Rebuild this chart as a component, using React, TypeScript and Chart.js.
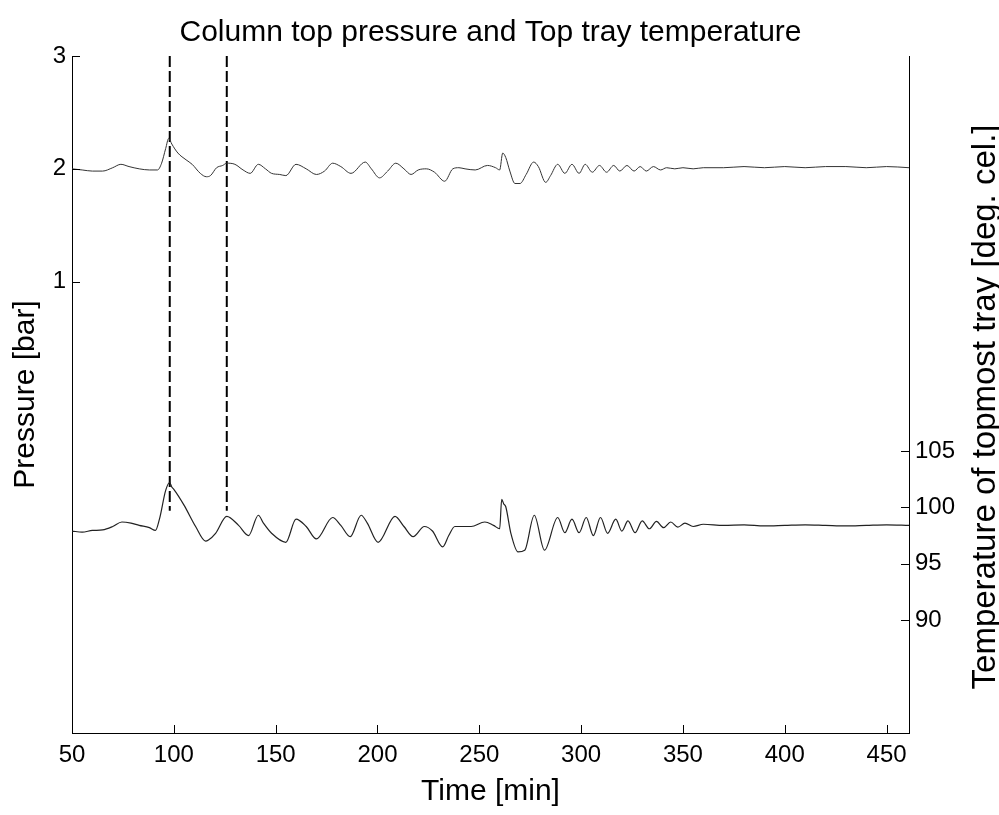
import { useEffect, useRef } from "react";
import { Chart, registerables } from "chart.js";
Chart.register(...registerables);

const FONT = '"Liberation Sans", Arial, Helvetica, sans-serif';

const chartTitle = "Column top pressure and Top tray temperature";
const xTitle = "Time [min]";
const leftTitle = "Pressure [bar]";
const rightTitle = "Temperature of topmost tray [deg. cel.]";

const timeTicks = [50, 100, 150, 200, 250, 300, 350, 400, 450];
const pressureTicks = [1, 2, 3];
const temperatureTicks = [90, 95, 100, 105];

const pressureTime = [
  50, 55, 60, 65, 70, 74, 78, 83, 88, 92, 94, 96, 97.5, 99, 102, 106, 109, 113, 116, 118,
  121, 124, 126, 130, 134, 137.5, 141.5, 145, 148, 152, 155, 160, 165, 170, 174, 178, 182, 187,
  194, 197, 201, 205, 209, 213, 216.5, 220, 224, 228, 233, 237, 240, 243, 248, 254, 258, 260,
  261.5, 263, 265, 267.5, 270, 273, 276.7, 279, 282.6, 285, 288.5, 292, 295.5, 299, 302, 305.5,
  309, 312.5, 316, 319, 322.5, 326, 329, 332, 335.5, 339, 342, 346, 350, 355, 360, 370, 380,
  390, 400, 410, 420, 430, 440, 450, 461,
];
const pressureValue = [
  2.0, 1.99, 1.98, 1.98, 2.01, 2.04, 2.02, 2.0, 1.99, 1.99, 2.05, 2.18, 2.27, 2.22, 2.14, 2.08, 2.04, 1.96, 1.93, 1.94,
  2.01, 2.03, 2.05, 2.04, 1.99, 1.96, 2.04, 2.0, 1.96, 1.95, 1.94, 2.04, 2.0, 1.95, 1.98, 2.05, 2.02, 1.96,
  2.06, 2.0, 1.92, 1.98, 2.05, 2.0, 1.95, 1.99, 2.0, 1.97, 1.89, 2.0, 2.01, 2.0, 1.99, 2.03, 2.01, 1.99,
  2.14, 2.1, 1.98, 1.87, 1.87, 1.95, 2.06, 2.02, 1.88, 1.94, 2.04, 1.96, 2.04, 1.96, 2.04, 1.97,
  2.03, 1.97, 2.03, 1.98, 2.03, 1.98, 2.02, 1.98, 2.02, 1.99, 2.01, 2.0, 2.01, 2.0, 2.01, 2.01, 2.02,
  2.01, 2.02, 2.01, 2.02, 2.02, 2.01, 2.02, 2.01,
];

const temperatureTime = [
  50, 55, 60, 65, 70, 74.5, 79, 83, 88, 91, 93, 96, 98, 99, 100, 105, 110.7, 115.6, 117, 120.5,
  126, 131.8, 136.7, 141.5, 144, 148, 155, 160, 165, 170, 178, 182, 186.6, 192, 195, 200.3, 208.6,
  213, 217.5, 223, 227, 232, 235, 238, 246, 252.7, 257, 260, 261, 262, 263, 265.5, 269, 272.3,
  277, 282, 288.5, 292, 295.5, 299, 302.5, 306, 309.5, 313, 317, 320, 323, 326.5, 330, 333.5,
  337, 340.5, 344, 347.5, 351, 355, 360, 370, 380, 390, 400, 410, 420, 430, 440, 450, 461,
];
const temperatureValue = [
  97.9, 97.8, 97.95, 98.0, 98.3, 98.7, 98.6, 98.4, 98.2, 97.95, 99.0, 101.5, 102.2, 101.8, 101.6, 100.2, 98.3, 97.0, 97.1, 97.7,
  99.2, 98.4, 97.5, 99.3, 98.6, 97.7, 96.9, 98.95, 98.3, 97.2, 99.1, 98.4, 97.4, 99.3, 98.6, 96.9, 99.2,
  98.3, 97.4, 98.3, 97.9, 96.5, 97.5, 98.3, 98.3, 98.7, 98.4, 98.1, 100.7, 100.3, 100.05, 97.7, 96.05, 96.2,
  99.3, 96.2, 99.1, 97.75, 98.95, 97.75, 99.1, 97.5, 99.1, 97.7, 98.95, 97.9, 98.8, 97.75, 98.8, 98.1,
  98.75, 98.2, 98.7, 98.25, 98.6, 98.3, 98.5, 98.4, 98.45, 98.35, 98.4, 98.45, 98.4, 98.35, 98.4, 98.45, 98.4,
];

const markerTimes = [98, 126];
const markerRange = [3, -1.03];

const decorPlugin = {
  id: "decor",
  afterDraw(chart: any) {
    const ctx = chart.ctx as CanvasRenderingContext2D;
    const { left, right, top, bottom } = chart.chartArea;
    ctx.save();
    ctx.strokeStyle = "#000";
    ctx.lineWidth = 1;
    const tickLen = 8;
    const xs = chart.scales.x;
    xs.ticks.forEach((t: any) => {
      const px = Math.round(xs.getPixelForValue(t.value)) + 0.5;
      ctx.beginPath();
      ctx.moveTo(px, bottom);
      ctx.lineTo(px, bottom - tickLen);
      ctx.stroke();
    });
    const yl = chart.scales.yP;
    yl.ticks.forEach((t: any) => {
      const py = Math.round(yl.getPixelForValue(t.value)) + 0.5;
      ctx.beginPath();
      ctx.moveTo(left, py);
      ctx.lineTo(left + tickLen, py);
      ctx.stroke();
    });
    const yr = chart.scales.yT;
    yr.ticks.forEach((t: any) => {
      const py = Math.round(yr.getPixelForValue(t.value)) + 0.5;
      ctx.beginPath();
      ctx.moveTo(right, py);
      ctx.lineTo(right - tickLen, py);
      ctx.stroke();
    });

    ctx.fillStyle = "#000";
    ctx.textAlign = "center";
    ctx.textBaseline = "alphabetic";
    ctx.font = `30px ${FONT}`;
    ctx.fillText(chartTitle, (left + right) / 2, 41);
    ctx.fillText(xTitle, (left + right) / 2, 800);

    ctx.save();
    ctx.translate(34, (top + bottom) / 2);
    ctx.rotate(-Math.PI / 2);
    ctx.fillText(leftTitle, 0, 0);
    ctx.restore();

    ctx.save();
    ctx.font = `33px ${FONT}`;
    ctx.translate(995, 407);
    ctx.rotate(-Math.PI / 2);
    ctx.fillText(rightTitle, 0, 0);
    ctx.restore();
    ctx.restore();
  },
};

export default function App() {
  const ref = useRef<HTMLCanvasElement | null>(null);
  useEffect(() => {
    document.body.style.margin = "0";
    const canvas = ref.current;
    if (!canvas) return;
    const tickFont = { family: FONT, size: 24 };
    const markerSets = markerTimes.map((t) => ({
      label: `marker ${t}`,
      data: markerRange.map((v) => ({ x: t, y: v })),
      yAxisID: "yP",
      borderColor: "#000",
      borderWidth: 2,
      borderDash: [11, 4],
      pointRadius: 0,
      fill: false,
    }));
    const chart = new Chart(canvas, {
      type: "line",
      data: {
        datasets: [
          {
            label: "Pressure",
            data: pressureTime.map((t, i) => ({ x: t, y: pressureValue[i] })),
            yAxisID: "yP",
            borderColor: "#333",
            borderWidth: 1,
            pointRadius: 0,
            cubicInterpolationMode: "monotone",
            fill: false,
          },
          {
            label: "Temperature",
            data: temperatureTime.map((t, i) => ({ x: t, y: temperatureValue[i] })),
            yAxisID: "yT",
            borderColor: "#222",
            borderWidth: 1.2,
            pointRadius: 0,
            cubicInterpolationMode: "monotone",
            fill: false,
          },
          ...markerSets,
        ],
      } as any,
      options: {
        responsive: false,
        animation: false,
        layout: { padding: { top: 56, left: 0, right: 0, bottom: 0 } },
        plugins: { legend: { display: false }, title: { display: false }, tooltip: { enabled: false } },
        scales: {
          x: {
            type: "linear",
            min: 50,
            max: 461,
            afterBuildTicks: (s: any) => {
              s.ticks = timeTicks.map((v) => ({ value: v }));
            },
            afterFit: (s: any) => {
              s.height = 82;
            },
            grid: { display: false, drawTicks: false },
            border: { display: true, color: "#000", width: 1 },
            ticks: { font: tickFont, color: "#000", padding: 8, maxRotation: 0, autoSkip: false },
          },
          yP: {
            type: "linear",
            position: "left",
            min: -3,
            max: 3,
            afterBuildTicks: (s: any) => {
              s.ticks = pressureTicks.map((v) => ({ value: v }));
            },
            afterFit: (s: any) => {
              s.width = 72;
            },
            grid: { display: false, drawTicks: false },
            border: { display: true, color: "#000", width: 1 },
            ticks: { font: tickFont, color: "#000", padding: 6, autoSkip: false },
          },
          yT: {
            type: "linear",
            position: "right",
            min: 80,
            max: 140,
            afterBuildTicks: (s: any) => {
              s.ticks = temperatureTicks.map((v) => ({ value: v }));
            },
            afterFit: (s: any) => {
              s.width = 90;
            },
            grid: { display: false, drawTicks: false },
            border: { display: true, color: "#000", width: 1 },
            ticks: { font: tickFont, color: "#000", padding: 6, autoSkip: false },
          },
        },
      } as any,
      plugins: [decorPlugin],
    });
    return () => chart.destroy();
  }, []);
  return <canvas ref={ref} width={999} height={815} style={{ display: "block" }} />;
}
